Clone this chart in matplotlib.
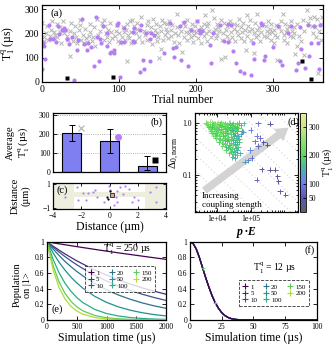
import numpy as np
import matplotlib
matplotlib.use('Agg')
import matplotlib.pyplot as plt
from matplotlib.colors import LinearSegmentedColormap
from matplotlib.lines import Line2D

plt.rcParams['font.family'] = ['Liberation Serif', 'DejaVu Serif']
plt.rcParams['mathtext.fontset'] = 'custom'
plt.rcParams['mathtext.rm'] = 'Liberation Serif'
plt.rcParams['mathtext.it'] = 'Liberation Serif:italic'
plt.rcParams['mathtext.bf'] = 'Liberation Serif:bold'
plt.rcParams['axes.linewidth'] = 0.9
plt.rcParams['xtick.direction'] = 'in'
plt.rcParams['ytick.direction'] = 'in'
plt.rcParams['xtick.top'] = True
plt.rcParams['ytick.right'] = True
plt.rcParams['xtick.major.size'] = 3
plt.rcParams['ytick.major.size'] = 3
plt.rcParams['xtick.minor.size'] = 1.5
plt.rcParams['ytick.minor.size'] = 1.5
plt.rcParams['xtick.major.width'] = 0.6
plt.rcParams['ytick.major.width'] = 0.6

T1Q = r'T$_1^{\mathrm{q}}$ (µs)'

# ---------------- (a) T1 per trial ----------------
gray_x = [0, 2, 3, 5, 6, 8, 11, 12, 13, 15,
          16, 17, 19, 20, 23, 24, 25, 27, 28, 31,
          32, 34, 36, 37, 38, 40, 41, 43, 44, 46,
          48, 49, 50, 51, 53, 54, 56, 57, 59, 61,
          62, 63, 65, 66, 68, 69, 72, 73, 76, 78,
          80, 81, 82, 83, 85, 86, 87, 89, 90, 91,
          95, 96, 97, 99, 100, 102, 104, 105, 106, 108,
          109, 110, 111, 112, 113, 114, 115, 116, 117, 119,
          121, 122, 123, 124, 126, 128, 130, 132, 134, 136,
          137, 138, 139, 141, 143, 144, 145, 147, 148, 149,
          150, 151, 152, 153, 154, 155, 156, 157, 158, 160,
          161, 162, 163, 164, 165, 167, 168, 169, 171, 173,
          175, 176, 177, 178, 180, 182, 183, 184, 186, 187,
          188, 189, 191, 192, 193, 195, 196, 197, 198, 199,
          200, 202, 203, 206, 207, 209, 210, 211, 212, 213,
          214, 215, 216, 217, 219, 221, 223, 224, 225, 226,
          227, 228, 229, 230, 232, 233, 234, 235, 236, 238,
          239, 240, 241, 243, 244, 245, 247, 249, 250, 251,
          253, 254, 255, 256, 258, 259, 260, 261, 262, 264,
          265, 266, 267, 268, 269, 270, 271, 273, 275, 276,
          277, 278, 279, 280, 281, 282, 283, 285, 287, 288,
          291, 292, 293, 294, 295, 296, 297, 298, 299, 301,
          302, 303, 304, 305, 306, 308, 310, 311, 313, 314,
          315, 316, 317, 318, 319, 321, 322, 323, 325, 326,
          327, 328, 329, 331, 332, 334, 336, 339, 340, 341,
          344, 346, 348, 351, 352, 353, 355, 356, 357, 358,
          360, 362, 363, 364]
gray_y = [245, 170, 185, 200, 230, 175, 190, 215, 250, 205,
          180, 195, 240, 185, 225, 205, 160, 250, 200, 215,
          190, 175, 210, 108, 245, 170, 200, 230, 185, 160,
          215, 235, 255, 175, 195, 160, 220, 180, 165, 190,
          205, 240, 170, 185, 225, 150, 260, 195, 210, 245,
          175, 255, 230, 200, 185, 215, 165, 245, 205, 180,
          190, 210, 235, 170, 200, 160, 185, 225, 205, 175,
          215, 240, 88, 195, 180, 250, 160, 205, 255, 230,
          170, 200, 220, 245, 185, 270, 165, 210, 195, 235,
          175, 250, 205, 225, 155, 260, 190, 215, 240, 170,
          200, 185, 99, 230, 136, 210, 255, 175, 245, 195,
          220, 205, 240, 180, 250, 190, 215, 235, 165, 200,
          280, 225, 195, 160, 210, 122, 245, 185, 230, 205,
          175, 255, 200, 220, 185, 240, 165, 210, 195, 230,
          205, 250, 180, 225, 160, 215, 240, 190, 275, 200,
          230, 170, 245, 210, 185, 295, 205, 265, 220, 180,
          240, 195, 225, 210, 95, 255, 175, 200, 245, 103,
          215, 190, 230, 175, 250, 205, 185, 240, 220, 170,
          235, 210, 195, 260, 180, 225, 205, 245, 170, 215,
          133, 275, 190, 230, 210, 255, 175, 220, 200, 119,
          245, 185, 215, 280, 195, 225, 170, 205, 240, 190,
          230, 210, 185, 250, 200, 220, 175, 240, 205, 160,
          215, 195, 235, 89, 185, 225, 210, 250, 280, 195,
          175, 240, 205, 220, 160, 230, 190, 250, 210, 185,
          225, 200, 115, 147, 240, 190, 170, 255, 113, 210,
          295, 245, 265, 230, 200, 270, 225, 185, 260, 37,
          210, 240, 175, 270]

purple_x = [0, 1, 3, 4, 9, 10, 14, 18, 22, 21, 26, 29, 30, 33, 35, 39, 42, 45,
            47, 52, 55, 58, 60, 64, 67, 70, 71, 74, 75, 77, 79, 84, 84, 88, 94,
            98, 99, 107, 118, 120, 127, 129, 135, 142, 140, 146, 94, 90, 103, 107,
            118, 120, 131, 140, 133, 127, 101, 159, 166, 170, 174, 172, 181, 179,
            185, 190, 194, 201, 204, 208, 205, 218, 220, 222, 231, 237, 242, 242,
            246, 248, 252, 257, 263, 272, 276, 274, 286, 289, 290, 284, 300, 307,
            309, 312, 320, 324, 330, 333, 335, 337, 342, 345, 347, 350, 354, 359,
            360, 361]
purple_y = [55, 160, 150, 96, 236, 177, 177, 163, 197, 231, 215, 222, 213, 177,
            156, 187, 9, 133, 175, 259, 156, 133, 160, 146, 64, 270, 187, 88, 177,
            160, 229, 149, 203, 119, 119, 236, 242, 222, 208, 222, 215, 236, 201,
            201, 177, 194, 133, 122, 163, 163, 167, 163, 92, 85, 53, 39, 21, 119,
            242, 140, 146, 101, 92, 229, 249, 64, 215, 253, 215, 212, 201, 153,
            78, 201, 236, 167, 163, 240, 236, 126, 78, 44, 37, 30, 94, 160, 236,
            89, 105, 245, 146, 229, 85, 71, 201, 229, 51, 78, 226, 136, 58, 236,
            105, 160, 231, 160, 53, 236]

black_x = [33, 92, 338, 349]
black_y = [16, 22, 85, 12]

# ---------------- (b) averages ----------------
bar_pos = [1, 2, 3]
bar_mean = [205, 163, 32]
bar_err_low = [45, 65, 22]
bar_err_high = [43, 62, 50]
avg_mark_x = [1.25, 2.23, 3.2]
avg_mark_y = [229, 181, 60]

# ---------------- (c) positions ----------------
c_purple_x = [-3.15, -1.86, -1.7, -0.06, 0.06, 0.77, 1.12, 1.36, 0.98, 0.44,
              0.56, 0.33, -0.4, -1.0, 2.9, 3.3, -2.2, 2.0, 1.6, -3.6, -1.2,
              -2.3, -1.5, -0.9, 0.5, 1.7, 3.3]
c_purple_y = [-0.06, 0.22, -0.34, 0.87, 0.53, 0.75, 0.87, 0.6, 0.2, -0.06,
              -0.48, -0.76, -0.48, 0.5, 0.36, -0.48, -0.34, -0.34, -0.48, 0.7,
              0.3, 0.74, 0.23, -0.06, 0.45, -0.06, 0.74]
c_black_x = [-0.2, 0.0, -0.1]
c_black_y = [-0.1, 0.4, -0.25]
c_square_x = [0.15]
c_square_y = [0.05]

# ---------------- (d) coupling map ----------------
d_x = [4.6e3, 5.4e3, 6.8e3, 8.5e3, 1.05e4, 1.3e4, 1.7e4, 2.2e4, 2.9e4, 4.3e4, 6.0e4,
       5.1e3, 6.2e3, 7.9e3, 1.0e4, 1.25e4, 1.6e4, 2.1e4, 2.7e4, 3.4e4, 4.9e4,
       5.8e3, 7.2e3, 9.2e3, 1.15e4, 1.5e4, 1.95e4, 2.5e4, 3.2e4, 4.1e4,
       6.6e3, 8.4e3, 1.08e4, 1.38e4, 1.78e4, 2.35e4, 3.0e4, 3.9e4, 5.3e4,
       7.6e3, 9.8e3, 1.28e4, 1.65e4, 2.15e4, 2.85e4, 3.7e4, 4.9e4,
       9.2e3, 1.2e4, 1.58e4, 2.05e4, 2.7e4, 3.5e4, 4.5e4,
       1.12e4, 1.48e4, 1.95e4, 2.6e4, 3.4e4, 4.4e4,
       1.4e4, 1.85e4, 2.45e4, 3.25e4, 4.2e4,
       1.8e4, 2.35e4, 3.05e4, 3.95e4,
       2.3e4, 2.95e4, 3.7e4, 2.8e4, 3.3e4,
       4.9e3, 6.0e3, 7.4e3, 9.6e3, 1.18e4, 1.45e4, 1.9e4, 2.45e4, 3.7e4,
       5.4e3, 6.9e3, 8.8e3, 1.12e4, 1.42e4, 1.82e4, 2.35e4, 3.0e4, 3.8e4,
       6.3e3, 7.8e3, 1.0e4, 1.28e4, 1.65e4, 2.15e4, 2.75e4, 3.5e4,
       7.0e3, 9.0e3, 1.17e4, 1.5e4, 1.98e4, 2.6e4, 3.4e4,
       8.4e3, 1.1e4, 1.45e4, 1.9e4, 2.5e4, 3.2e4, 4.1e4,
       1.35e4, 1.75e4, 2.3e4, 3.0e4, 3.9e4,
       1.65e4, 2.2e4, 2.9e4, 3.7e4, 2.1e4, 2.75e4, 3.5e4, 2.6e4, 3.4e4,
       1.6e5, 3.6e5, 9.8e4, 5.9e4, 1.47e5, 1.84e5, 1.3e5, 2.3e5, 3.0e5, 1.6e5,
       9.3e4, 4.7e4, 1.05e5, 8.3e4, 6.6e4, 2.05e5, 3.6e5, 5.1e5, 5.9e5, 6.3e5,
       1.47e5, 7.1e5, 1.0e6]
d_y = [1.0, 0.97, 1.02, 0.98, 1.0, 1.03, 0.99, 1.01, 0.98, 1.0, 0.99,
       0.92, 0.88, 0.91, 0.89, 0.93, 0.87, 0.9, 0.92, 0.88, 0.9,
       0.82, 0.79, 0.81, 0.78, 0.83, 0.8, 0.77, 0.81, 0.79,
       0.71, 0.69, 0.72, 0.68, 0.7, 0.73, 0.69, 0.71, 0.7,
       0.61, 0.59, 0.62, 0.58, 0.6, 0.61, 0.59, 0.6,
       0.51, 0.49, 0.52, 0.48, 0.5, 0.51, 0.49,
       0.43, 0.41, 0.44, 0.41, 0.43, 0.42,
       0.36, 0.34, 0.35, 0.37, 0.34,
       0.3, 0.31, 0.29, 0.3,
       0.26, 0.25, 0.24, 0.22, 0.21,
       0.95, 1.05, 0.94, 0.95, 0.96, 0.95, 0.94, 0.95, 0.95,
       0.85, 0.84, 0.86, 0.84, 0.88, 0.85, 0.83, 0.86, 0.84,
       0.75, 0.76, 0.74, 0.76, 0.75, 0.76, 0.74, 0.75,
       0.65, 0.64, 0.66, 0.64, 0.65, 0.66, 0.64,
       0.55, 0.56, 0.55, 0.56, 0.54, 0.56, 0.55,
       0.46, 0.47, 0.46, 0.46, 0.47,
       0.39, 0.38, 0.39, 0.4, 0.33, 0.32, 0.33, 0.28, 0.27,
       0.99, 0.96, 0.73, 0.68, 0.56, 0.51, 0.44, 0.42, 0.38, 0.36,
       0.30, 0.26, 0.21, 0.19, 0.18, 0.128, 0.125, 0.125, 0.093, 0.075,
       0.08, 0.048, 0.041]
d_t1 = [225, 260, 240, 210, 285, 230, 200, 250, 190, 170, 165,
        250, 205, 230, 270, 190, 240, 215, 180, 220, 160,
        235, 262, 200, 225, 245, 185, 212, 172, 200,
        212, 242, 192, 255, 203, 182, 228, 162, 150,
        232, 202, 247, 187, 217, 172, 197, 140,
        222, 192, 236, 177, 207, 162, 182,
        202, 232, 172, 192, 152, 177,
        217, 182, 202, 162, 187,
        192, 212, 172, 152,
        202, 167, 182, 176, 160,
        240, 275, 215, 250, 205, 265, 225, 195, 210,
        220, 190, 245, 215, 200, 235, 175, 205, 185,
        225, 200, 235, 210, 190, 220, 170, 195,
        215, 185, 225, 200, 180, 205, 165,
        205, 230, 185, 215, 190, 170, 150,
        210, 185, 200, 165, 185,
        195, 175, 205, 160, 180, 195, 170, 185, 160,
        85, 40, 100, 140, 95, 80, 90, 45, 35, 75,
        110, 150, 90, 125, 140, 40, 30, 25, 30, 35,
        70, 60, 55]

# ---------------- (e) population, T1q = 250 us ----------------
e_time = [0, 100, 200, 300, 400, 500, 600, 800, 1000, 1200, 1400, 1600, 1800, 2000]
e_pop_1 = [1, 0.987, 0.975, 0.963, 0.951, 0.939, 0.927, 0.904, 0.881, 0.859, 0.838, 0.817, 0.796, 0.776]
e_pop_5 = [1, 0.946, 0.895, 0.846, 0.801, 0.757, 0.717, 0.641, 0.574, 0.513, 0.459, 0.411, 0.368, 0.329]
e_pop_10 = [1, 0.933, 0.870, 0.812, 0.757, 0.707, 0.659, 0.574, 0.499, 0.435, 0.378, 0.329, 0.287, 0.249]
e_pop_20 = [1, 0.909, 0.827, 0.751, 0.683, 0.621, 0.565, 0.467, 0.386, 0.319, 0.264, 0.218, 0.180, 0.149]
e_pop_50 = [1, 0.861, 0.742, 0.639, 0.550, 0.474, 0.408, 0.303, 0.225, 0.167, 0.124, 0.092, 0.068, 0.051]
e_pop_100 = [1, 0.779, 0.607, 0.472, 0.368, 0.287, 0.223, 0.135, 0.082, 0.050, 0.030, 0.018, 0.011, 0.007]
e_pop_150 = [1, 0.700, 0.490, 0.343, 0.240, 0.168, 0.117, 0.057, 0.028, 0.014, 0.007, 0.003, 0.002, 0.001]
e_pop_200 = [1, 0.647, 0.419, 0.271, 0.175, 0.114, 0.074, 0.031, 0.013, 0.005, 0.002, 0.001, 0.0, 0.0]
e_series = [e_pop_1, e_pop_5, e_pop_10, e_pop_20, e_pop_50, e_pop_100, e_pop_150, e_pop_200]
n_labels = ['1', '5', '10', '20', '50', '100', '150', '200']

# ---------------- (f) population, T1q = 12 us ----------------
f_time = [0, 2.5, 5, 7.5, 10, 12.5, 15, 17.5, 20, 22.5, 25, 27.5, 30, 32.5, 35,
          37.5, 40, 50, 60, 70, 80, 90, 100]
f_pop = [1, 0.98, 0.91, 0.80, 0.67, 0.54, 0.42, 0.31, 0.22, 0.15, 0.095, 0.057,
         0.032, 0.017, 0.008, 0.004, 0.002, 0, 0, 0, 0, 0, 0]

fig = plt.figure(figsize=(3.36, 3.5), dpi=100)

# (a)
ax_a = fig.add_axes([0.125, 0.766, 0.836, 0.220])
ax_a.plot(gray_x, gray_y, 'x', color='#b4b4b4', ms=3.2, mew=0.7)
ax_a.plot(purple_x, purple_y, 'o', color='#b57ef5', ms=3, mec='none')
ax_a.plot(black_x, black_y, 's', color='k', ms=3, mec='none')
ax_a.set_xlim(0, 365)
ax_a.set_ylim(0, 318)
ax_a.set_xticks([0, 100, 200, 300])
ax_a.set_yticks([0, 100, 200, 300])
ax_a.tick_params(labelsize=7, pad=2)
ax_a.set_xlabel('Trial number', fontsize=8.5, labelpad=0)
ax_a.set_ylabel(T1Q, fontsize=8.5)
ax_a.yaxis.set_label_coords(-0.088, 0.5)
ax_a.text(0.03, 0.86, '(a)', transform=ax_a.transAxes, fontsize=8)

# (b)
ax_b = fig.add_axes([0.158, 0.509, 0.336, 0.169])
ax_b.grid(axis='y', ls=':', color='#999999', lw=0.6)
ax_b.set_axisbelow(True)
ax_b.bar(bar_pos, bar_mean, width=0.5, color='#7f7ff2', edgecolor='k', lw=0.8)
ax_b.errorbar(bar_pos, bar_mean, yerr=[bar_err_low, bar_err_high], fmt='none',
              ecolor='k', elinewidth=0.7, capsize=2, capthick=0.7)
ax_b.plot(avg_mark_x[0], avg_mark_y[0], 'x', color='#c0c0c0', ms=5, mew=1.0)
ax_b.plot(avg_mark_x[1], avg_mark_y[1], 'o', color='#b57ef5', ms=5, mec='none')
ax_b.plot(avg_mark_x[2], avg_mark_y[2], 's', color='k', ms=4.5, mec='none')
ax_b.set_xlim(0.5, 3.5)
ax_b.set_ylim(0, 310)
ax_b.set_xticks([])
ax_b.set_yticks([0, 100, 200, 300])
ax_b.tick_params(labelsize=5.5, pad=2)
ax_b.set_ylabel('Average\n' + T1Q, fontsize=7.5, linespacing=1.1)
ax_b.yaxis.set_label_coords(-0.2, 0.5)
ax_b.text(0.86, 0.8, '(b)', transform=ax_b.transAxes, fontsize=7.5)

# (c)
ax_c = fig.add_axes([0.158, 0.403, 0.336, 0.074])
ax_c.axvspan(-4, -2.5, color='#eeeedf', lw=0)
ax_c.axvspan(2.5, 4, color='#eeeedf', lw=0)
ax_c.fill_between([-2.5, 2.5], -0.05, 0.35, color='#eeeedf', lw=0)
ax_c.plot(c_purple_x, c_purple_y, 'o', color='#b57ef5', ms=1.6, mec='none')
ax_c.plot(c_black_x, c_black_y, 'o', color='k', ms=1.6, mec='none')
ax_c.plot(c_square_x, c_square_y, 's', color='#d9a3a3', ms=3, mec='k', mew=0.5)
ax_c.set_xlim(-4, 4)
ax_c.set_ylim(-1.1, 1.1)
ax_c.set_xticks([-4, -2, 0, 2, 4])
ax_c.set_yticks([-1, 1])
ax_c.tick_params(labelsize=5.5, pad=2, length=2)
ax_c.set_xlabel('Distance (µm)', fontsize=8.5, labelpad=1)
ax_c.set_ylabel('Distance\n(µm)', fontsize=7.5, linespacing=1.1)
ax_c.yaxis.set_label_coords(-0.2, 0.5)
ax_c.text(0.03, 0.62, '(c)', transform=ax_c.transAxes, fontsize=7.5)

# (d)
cmap = LinearSegmentedColormap.from_list('t1', [
    (0.0, '#45454f'), (0.14, '#3a3aa0'), (0.29, '#5a66ee'), (0.43, '#2fa3a8'),
    (0.57, '#3fd04a'), (0.71, '#70e05a'), (0.86, '#c6e070'), (1.0, '#eee58a')])
ax_d = fig.add_axes([0.580, 0.394, 0.307, 0.283])
ax_d.set_xscale('log')
ax_d.set_yscale('log')
for c in np.arange(0.08, 2.0, 0.17):
    ax_d.plot([0, c], [c, 0], transform=ax_d.transAxes, color='#cfcfcf',
              lw=0.6, dashes=(1.5, 3), zorder=0)
ax_d.annotate('', xy=(0.93, 0.87), xytext=(0.07, 0.2), xycoords='axes fraction',
              arrowprops=dict(arrowstyle='simple,tail_width=0.55,head_width=1.1,head_length=0.9',
                              fc='#d3d3d3', ec='none', mutation_scale=10), zorder=1)
sc = ax_d.scatter(d_x, d_y, c=d_t1, cmap=cmap, vmin=0, vmax=350, marker='+',
                  s=14, linewidths=0.7, alpha=0.85, zorder=3)
ax_d.text(0.07, 0.05, 'Increasing\ncoupling stength', transform=ax_d.transAxes,
          fontsize=6.5, linespacing=1.2, zorder=4)
ax_d.set_xlim(2.2e3, 2.4e6)
ax_d.set_ylim(0.019, 1.55)
ax_d.set_xticks([1e4, 1e5])
ax_d.set_xticklabels(['1e+04', '1e+05'])
ax_d.set_yticks([0.1, 1.0])
ax_d.set_yticklabels(['0.1', '1.0'])
ax_d.tick_params(labelsize=5.5, pad=2)
ax_d.tick_params(which='minor', labelleft=False, labelbottom=False)
ax_d.set_xlabel('p ·E', fontsize=8.5, fontweight='bold', fontstyle='italic', labelpad=2)
ax_d.set_ylabel(r'$\Delta_{0,\mathrm{norm}}$', fontsize=8)
ax_d.yaxis.set_label_coords(-0.13, 0.6)
ax_d.text(0.9, 0.88, '(d)', transform=ax_d.transAxes, fontsize=7.5)

cax = fig.add_axes([0.893, 0.394, 0.018, 0.283])
cb = fig.colorbar(sc, cax=cax)
cb.set_ticks([50, 100, 200, 300])
cb.outline.set_linewidth(0.6)
cax.tick_params(labelsize=5.5, length=2, pad=1.5)
cax.set_ylabel(T1Q, fontsize=7, labelpad=1)

# (e)
colors = plt.cm.viridis(np.linspace(0.0, 0.88, len(e_series)))
ax_e = fig.add_axes([0.140, 0.086, 0.354, 0.223])
for pop, col in zip(e_series, colors):
    ax_e.plot(e_time, pop, color=col, lw=0.9)
ax_e.set_xlim(0, 2000)
ax_e.set_ylim(0, 1)
ax_e.set_xticks([0, 500, 1000, 1500, 2000])
ax_e.set_yticks([0, 0.2, 0.4, 0.6, 0.8, 1])
ax_e.set_yticklabels(['0', '0.2', '0.4', '0.6', '0.8', '1'])
ax_e.tick_params(labelsize=5.5, pad=2)
ax_e.set_xlabel('Simulation time (µs)', fontsize=8.5, labelpad=1)
ax_e.set_ylabel('Population\non |1>', fontsize=7.5, linespacing=1.1)
ax_e.yaxis.set_label_coords(-0.13, 0.45)
ax_e.text(0.67, 0.86, r'T$_1^{\mathrm{q}}$ = 250 µs', transform=ax_e.transAxes,
          fontsize=7, ha='center')
ax_e.text(0.04, 0.1, '(e)', transform=ax_e.transAxes, fontsize=7.5)
handles = [Line2D([], [], marker='+', ls='none', color=col, ms=4, mew=0.8) for col in colors]
leg = ax_e.legend(handles, n_labels, ncol=3, loc='center', bbox_to_anchor=(0.615, 0.52),
                  fontsize=5, frameon=True, fancybox=False, edgecolor='k',
                  handlelength=0.7, handletextpad=0.4, columnspacing=0.9,
                  labelspacing=0.1, borderpad=0.5)
leg.get_frame().set_linestyle('--')
leg.get_frame().set_linewidth(0.6)

# (f)
ax_f = fig.add_axes([0.565, 0.086, 0.378, 0.223])
for col in colors[::-1]:
    ax_f.plot(f_time, f_pop, color=col, lw=0.9)
ax_f.plot(f_time[4::4][:2], f_pop[4::4][:2], '+', color=colors[6], ms=2.5, mew=0.6)
ax_f.set_xlim(0, 100)
ax_f.set_ylim(0, 1)
ax_f.set_xticks([0, 25, 50, 75, 100])
ax_f.set_yticks([0, 0.2, 0.4, 0.6, 0.8, 1])
ax_f.set_yticklabels(['0', '0.2', '0.4', '0.6', '0.8', '1'])
ax_f.tick_params(labelsize=5.5, pad=2)
ax_f.set_xlabel('Simulation time (µs)', fontsize=8.5, labelpad=1)
ax_f.text(0.67, 0.62, r'T$_1^{\mathrm{q}}$ = 12 µs', transform=ax_f.transAxes,
          fontsize=7, ha='center')
ax_f.text(0.9, 0.86, '(f)', transform=ax_f.transAxes, fontsize=7.5)
leg = ax_f.legend(handles, n_labels, ncol=3, loc='center', bbox_to_anchor=(0.665, 0.34),
                  fontsize=5, frameon=True, fancybox=False, edgecolor='k',
                  handlelength=0.7, handletextpad=0.4, columnspacing=0.9,
                  labelspacing=0.1, borderpad=0.5)
leg.get_frame().set_linestyle('--')
leg.get_frame().set_linewidth(0.6)

fig.savefig('out.png', dpi=100)
